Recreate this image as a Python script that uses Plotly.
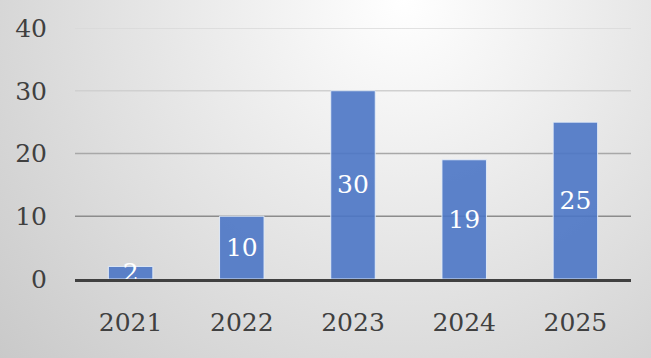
import base64
import plotly.graph_objects as go

years = ["2021", "2022", "2023", "2024", "2025"]
values = [2, 10, 30, 19, 25]
grid_vals = [10, 20, 30, 40]
grid_cols = ["#8c8c8c", "#a8a8a8", "#d0d0d0", "#d8d8d8"]

FONT = "DejaVu Serif"

svg = """<svg xmlns='http://www.w3.org/2000/svg' width='651' height='358' viewBox='0 0 651 358'>
<defs><radialGradient id='g' cx='0.62' cy='0.0' r='0.85' gradientUnits='objectBoundingBox' gradientTransform='translate(0.62,0) scale(1,1.8) translate(-0.62,0)'>
<stop offset='0' stop-color='#ffffff'/><stop offset='1' stop-color='#c8c8c8'/></radialGradient></defs>
<rect width='651' height='358' fill='url(#g)'/></svg>"""
src = "data:image/svg+xml;base64," + base64.b64encode(svg.encode()).decode()

fig = go.Figure()
fig.add_trace(go.Bar(
    x=years, y=values, width=0.4,
    marker=dict(color="rgba(75,118,197,0.9)", line=dict(color="rgba(230,238,250,0.9)", width=1)),
    text=[str(v) for v in values], textposition="inside", insidetextanchor="middle",
    textangle=0,
    textfont=dict(family=FONT, size=25, color="white"),
    constraintext="none", cliponaxis=False,
))

for v, c in zip(grid_vals, grid_cols):
    fig.add_shape(type="line", xref="paper", yref="y", x0=0, x1=1, y0=v, y1=v,
                  line=dict(color=c, width=1.5), layer="below")

fig.update_layout(
    width=651, height=358,
    margin=dict(l=75, r=20, t=28, b=79),
    paper_bgcolor="rgba(0,0,0,0)", plot_bgcolor="rgba(0,0,0,0)",
    showlegend=False,
    images=[dict(source=src, xref="paper", yref="paper", x=-75/556, y=1 + 28/251,
                 sizex=651/556, sizey=358/251, sizing="stretch", layer="below",
                 xanchor="left", yanchor="top")],
    font=dict(family=FONT, color="#404040", size=25),
    xaxis=dict(showgrid=False, showline=True, linecolor="#404040", linewidth=3, ticks="",
               tickfont=dict(family=FONT, size=25), ticklabelstandoff=19),
    yaxis=dict(range=[0, 40], tickvals=[0, 10, 20, 30, 40], showgrid=False, zeroline=False,
               showline=False, ticks="", tickfont=dict(family=FONT, size=25), ticklabelstandoff=27),
)
fig.write_html("out.html")
